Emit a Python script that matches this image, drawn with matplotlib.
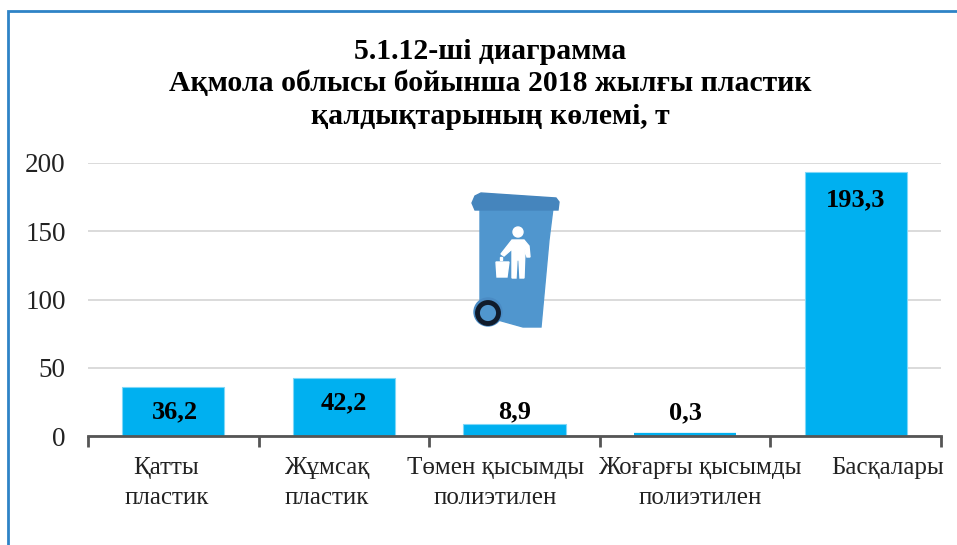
import matplotlib
matplotlib.use('Agg')
from matplotlib import pyplot as plt
from matplotlib.patches import Polygon, Circle, Rectangle

categories = ['Қатты\nпластик', 'Жұмсақ\nпластик', 'Төмен қысымды\nполиэтилен',
              'Жоғарғы қысымды\nполиэтилен', 'Басқалары']
values = [36.2, 42.2, 8.9, 0.3, 193.3]
value_labels = ['36,2', '42,2', '8,9', '0,3', '193,3']
yticks = [0, 50, 100, 150, 200]
title = '5.1.12-ші диаграмма\nАқмола облысы бойынша 2018 жылғы пластик\nқалдықтарының көлемі, т'

plt.rcParams['font.family'] = ['Liberation Serif', 'DejaVu Serif']
W, H = 957, 545
fig = plt.figure(figsize=(W/100, H/100), dpi=100)

#main axes, placed by pixels
ax = fig.add_axes([88/W, 1-436/H, (941-88)/W, (436-163)/H])
bars = ax.bar(range(5), values, width=0.6, color='#00B0F0', edgecolor='#7FD7F7', linewidth=0.8, zorder=3)
#the 0,3 bar is thinner than a pixel, the thick edge keeps it visible
bars[3].set_edgecolor('#00B0F0')
bars[3].set_linewidth(4.5)
ax.set_xlim(-0.5, 4.5)
ax.set_ylim(0, 200)
ax.set_yticks(yticks)
ax.set_yticklabels([str(t) for t in yticks], fontsize=19.5, color='#222222')
ax.set_xticks([i-0.5 for i in range(6)])
ax.set_xticklabels([])
ax.tick_params(axis='y', length=0, pad=16)
ax.tick_params(axis='x', length=8, width=2, color='#555555', direction='out')
ax.grid(axis='y', color='#D4D4D4', linewidth=1.2, zorder=0)
for s in ['top', 'right', 'left']:
    ax.spines[s].set_visible(False)
ax.spines['bottom'].set_color('#555555')
ax.spines['bottom'].set_linewidth(2)
ax.spines['bottom'].set_zorder(4)

label_y = [18, 24, 18, 17, 173]
label_dx = [-7, -17, -19, 15, 32]
for i in range(5):
    ax.text(i + (0.012 if i == 0 else 0), label_y[i], value_labels[i], ha='center', va='center', fontsize=19,
            fontweight='bold', color='black', zorder=5)
    ax.annotate(categories[i], (i, 0), xytext=(label_dx[i]*0.72, -15), textcoords='offset points',
                ha='center', va='top', fontsize=18, color='#222222', linespacing=1.47)

#overlay in pixel coordinates for the frame, title and bin picture
ov = fig.add_axes([0, 0, 1, 1])
ov.set_xlim(0, W)
ov.set_ylim(H, 0)
ov.axis('off')
ov.patch.set_alpha(0)
ov.plot([8, 8, W], [H, 11, 11], color='#2E83C6', linewidth=2, solid_joinstyle='miter')
ov.text(490, 84, title, ha='center', va='center', fontsize=21.4, fontweight='bold',
        color='black', linespacing=1.27)

blue = '#5096CE'
ov.add_patch(Polygon([(480, 208), (553, 208), (549, 240), (541, 327), (523, 327), (498, 320), (480, 308)],
                     closed=True, color=blue, zorder=2))
ov.add_patch(Polygon([(472, 203), (475, 196), (481, 193), (556, 198), (559, 202), (558, 210), (475, 210)],
                     closed=True, color='#4585BD', zorder=3))
ov.add_patch(Circle((488, 312), 14, color='#4A8BC4', zorder=3))
ov.add_patch(Circle((488, 313), 10.5, facecolor=blue, edgecolor='#101B2B', linewidth=3.5, zorder=4))
#man and bucket
ov.add_patch(Circle((518, 232), 5, color='white', zorder=5))
ov.add_patch(Polygon([(512, 240), (524, 240), (529, 246), (530, 257), (527, 257), (525, 249), (524, 278),
                      (520, 278), (519, 260), (517, 260), (516, 278), (512, 278), (512, 249),
                      (504, 256), (501, 254)], closed=True, color='white', zorder=5))
ov.add_patch(Polygon([(496, 262), (509, 262), (507, 277), (497, 277)], closed=True, color='white', zorder=5))
ov.add_patch(Rectangle((500, 257), 2, 3, color='white', zorder=5))

fig.savefig('out.png', dpi=100)
